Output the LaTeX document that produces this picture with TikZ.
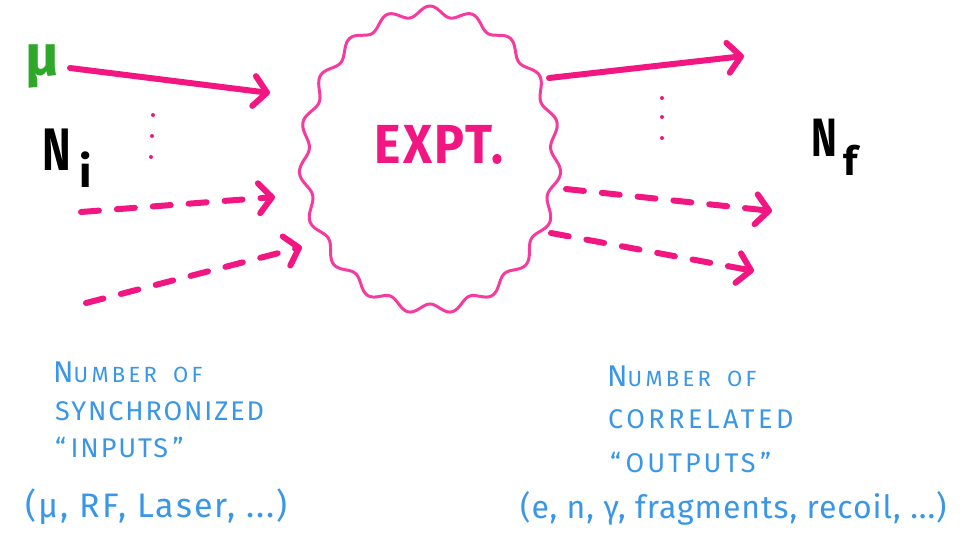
\documentclass[tikz,border=0pt]{standalone}
\usepackage{fontspec}
\setmainfont{Fira Sans}
\usetikzlibrary{arrows.meta}
\definecolor{pk}{HTML}{F21682}
\definecolor{pkb}{HTML}{F53AA0}
\definecolor{bl}{HTML}{3A96E6}
\definecolor{gr}{HTML}{2FA82A}
\begin{document}
\begin{tikzpicture}[x=1pt,y=-1pt,
  arrtip/.style={-{Straight Barb[round,length=13pt,width=30pt]}},
  solidarr/.style={draw=pk,line width=6pt,line cap=round,arrtip},
  dasharr/.style={draw=pk,line width=6pt,line cap=round,dash pattern=on 18pt off 18pt,arrtip},
  dotmark/.style={circle,fill=pk,inner sep=0pt,minimum size=4pt},
  bluetxt/.style={text=bl,inner sep=0pt,anchor=west},
  blacktxt/.style={text=black,inner sep=0pt}]
\useasboundingbox (0,0) rectangle (965,541);
% blob
\draw[pkb,line width=3pt,line join=round]
  plot[domain=0:360,samples=400,variable=\t]
  ({430+(126+5*sin(19*\t))*cos(\t)},{160+(149+5*sin(19*\t))*sin(\t)}) -- cycle;
\node[text=pk,inner sep=0pt] (expt) at (439,145) {\fontsize{50}{50}\selectfont\bfseries\addfontfeature{LetterSpace=4}\scalebox{1}[1.1]{EXPT.}};
% inputs
\node[text=gr,inner sep=0pt] (mu) at (42,66) {\fontsize{58}{58}\selectfont\bfseries μ};
\coordinate (i1s) at (70,68); \coordinate (i1e) at (270,93);
\coordinate (i2s) at (81,212); \coordinate (i2e) at (275,197);
\coordinate (i3s) at (86,303); \coordinate (i3e) at (302,247);
\draw[solidarr] (i1s) -- (i1e);
\draw[dasharr] (i2s) -- (i2e);
\draw[dasharr] (i3s) -- (i3e);
\node[dotmark] (d1) at (153,115) {};
\node[dotmark] (d2) at (152,136) {};
\node[dotmark] (d3) at (151,157) {};
\node[blacktxt] (N1) at (57,150) {\fontsize{60}{60}\selectfont\bfseries\scalebox{0.72}[1]{N}};
\node[blacktxt] (i) at (86,170) {\fontsize{44}{44}\selectfont\bfseries i};
% outputs
\coordinate (o1s) at (549,78); \coordinate (o1e) at (744,56);
\coordinate (o2s) at (566,189); \coordinate (o2e) at (772,211);
\coordinate (o3s) at (551,233); \coordinate (o3e) at (754,271);
\draw[solidarr] (o1s) -- (o1e);
\draw[dasharr] (o2s) -- (o2e);
\draw[dasharr] (o3s) -- (o3e);
\node[dotmark] (e1) at (662,98) {};
\node[dotmark] (e2) at (662,117) {};
\node[dotmark] (e3) at (662,138) {};
\node[blacktxt] (N2) at (824,138) {\fontsize{54}{54}\selectfont\bfseries\scalebox{0.72}[1]{N}};
\node[blacktxt] (f) at (851,160) {\fontsize{40}{40}\selectfont\bfseries f};
% captions
\node[bluetxt] (l1) at (53,372) {\addfontfeature{LetterSpace=15}\fontsize{30}{30}\selectfont N\fontsize{22}{22}\selectfont UMBER\hspace{16pt}OF};
\node[bluetxt] (l2) at (55,411) {\addfontfeature{LetterSpace=7}\fontsize{27}{27}\selectfont SYNCHRONIZED};
\node[bluetxt] (l3) at (55,447) {\addfontfeature{LetterSpace=7}\fontsize{27}{27}\selectfont “\,INPUTS\,”};
\node[bluetxt] (l4) at (25,507) {\addfontfeature{LetterSpace=6}\fontsize{34}{34}\selectfont (μ, RF, Laser, ...)};
\node[bluetxt] (r1) at (607,376) {\addfontfeature{LetterSpace=15}\fontsize{30}{30}\selectfont N\fontsize{22}{22}\selectfont UMBER\hspace{16pt}OF};
\node[bluetxt] (r2) at (608,419) {\addfontfeature{LetterSpace=13}\fontsize{27}{27}\selectfont CORRELATED};
\node[bluetxt] (r3) at (610,462) {\addfontfeature{LetterSpace=11}\fontsize{27}{27}\selectfont “\,OUTPUTS\,”};
\node[bluetxt] (r4) at (520,508) {\addfontfeature{LetterSpace=3}\fontsize{32}{32}\selectfont (e, n, γ, fragments, recoil, ...)};
\end{tikzpicture}
\end{document}
